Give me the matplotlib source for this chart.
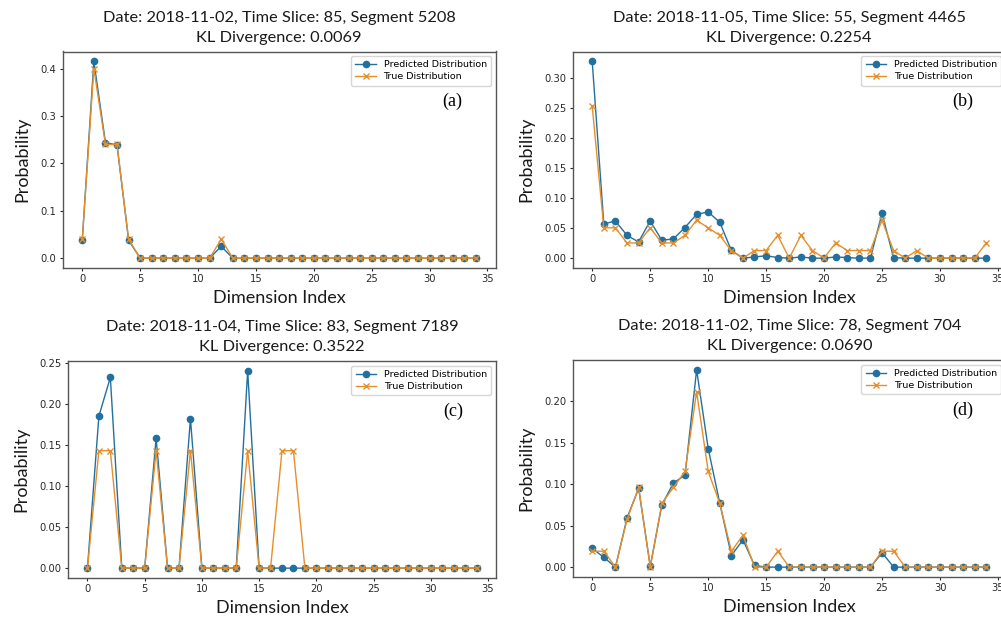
import numpy as np
import matplotlib
matplotlib.use("Agg")
import matplotlib.pyplot as plt

# Dimension indices 0..34
dims = list(range(35))

# (a) 2018-11-02, slice 85, segment 5208
pred_a = [0.038, 0.4155, 0.244, 0.239, 0.038] + [0.0] * 7 + [0.025] + [0.0] * 22
true_a = [0.04, 0.40, 0.24, 0.24, 0.04] + [0.0] * 7 + [0.04] + [0.0] * 22

# (b) 2018-11-05, slice 55, segment 4465
pred_b = [0.328, 0.057, 0.062, 0.038, 0.027, 0.062, 0.030, 0.032, 0.051, 0.073,
          0.077, 0.060, 0.013, 0.0, 0.002, 0.004, 0.001, 0.0, 0.002, 0.0,
          0.0, 0.002, 0.001, 0.0, 0.0, 0.0745, 0.001, 0.0, 0.0, 0.0,
          0.0, 0.0, 0.0, 0.0, 0.0]
true_b = [0.2532, 0.0506, 0.0506, 0.0253, 0.0253, 0.0506, 0.0253, 0.0253, 0.0380, 0.0633,
          0.0506, 0.0380, 0.0127, 0.0, 0.0127, 0.0127, 0.0380, 0.0, 0.0380, 0.0127,
          0.0, 0.0253, 0.0127, 0.0127, 0.0127, 0.0633, 0.0127, 0.0, 0.0127, 0.0,
          0.0, 0.0, 0.0, 0.0, 0.0253]

# (c) 2018-11-04, slice 83, segment 7189
pred_c = [0.0, 0.185, 0.232, 0.0, 0.0, 0.0, 0.158, 0.0, 0.0, 0.182,
          0.0, 0.0, 0.0, 0.0, 0.240] + [0.0] * 20
true_c = [0.0, 0.1429, 0.1429, 0.0, 0.0, 0.0, 0.1429, 0.0, 0.0, 0.1429,
          0.0, 0.0, 0.0, 0.0, 0.1429, 0.0, 0.0, 0.1429, 0.1429] + [0.0] * 16

# (d) 2018-11-02, slice 78, segment 704
pred_d = [0.0227, 0.0117, 0.0, 0.0595, 0.095, 0.001, 0.075, 0.1015, 0.111, 0.238,
          0.143, 0.077, 0.014, 0.033, 0.002, 0.0, 0.0, 0.0, 0.0, 0.0,
          0.0, 0.0, 0.0, 0.0, 0.0, 0.0174, 0.0, 0.0, 0.0, 0.0,
          0.0, 0.0, 0.0, 0.0, 0.0]
true_d = [0.0192, 0.0192, 0.0, 0.0577, 0.0962, 0.0, 0.0769, 0.0962, 0.1154, 0.2115,
          0.1154, 0.0769, 0.0192, 0.0385, 0.0, 0.0, 0.0192, 0.0, 0.0, 0.0,
          0.0, 0.0, 0.0, 0.0, 0.0, 0.0192, 0.0192, 0.0, 0.0, 0.0,
          0.0, 0.0, 0.0, 0.0, 0.0]

panels = [
    ("Date: 2018-11-02, Time Slice: 85, Segment 5208\nKL Divergence: 0.0069", pred_a, true_a, "(a)"),
    ("Date: 2018-11-05, Time Slice: 55, Segment 4465\nKL Divergence: 0.2254", pred_b, true_b, "(b)"),
    ("Date: 2018-11-04, Time Slice: 83, Segment 7189\nKL Divergence: 0.3522", pred_c, true_c, "(c)"),
    ("Date: 2018-11-02, Time Slice: 78, Segment 704\nKL Divergence: 0.0690", pred_d, true_d, "(d)"),
]

BLUE = "#22709f"
ORANGE = "#e58f2c"

W, H = 1001, 619
# axes boxes in pixels: left, top, width, height
boxes = [(62.6, 51.5, 433, 216.5),
         (572.5, 51.5, 433.5, 216.5),
         (68, 361, 428, 217),
         (572.6, 360, 433.5, 217)]

fig = plt.figure(figsize=(W / 100, H / 100), dpi=100)

for (title, pred, true, tag), (l, t, w, h) in zip(panels, boxes):
    ax = fig.add_axes([l / W, 1 - (t + h) / H, w / W, h / H])
    ax.plot(dims, pred, marker="o", color=BLUE, lw=1.0, ms=4.5, label="Predicted Distribution")
    ax.plot(dims, true, marker="x", color=ORANGE, lw=1.0, ms=4.5, mew=1.0, label="True Distribution")
    ax.set_xticks([0, 5, 10, 15, 20, 25, 30, 35])
    ax.tick_params(labelsize=7.2, length=2.5, width=0.8, pad=2, colors="#2a2a2a")
    for s in ax.spines.values():
        s.set_color("#555555")
        s.set_linewidth(1.0)
    ax.set_title(title, fontsize=11.8, family="Lato", pad=7, linespacing=1.55, color="#1a1a1a")
    ax.set_xlabel("Dimension Index", fontsize=13, family="Lato", labelpad=4, color="#1a1a1a")
    ax.set_ylabel("Probability", fontsize=13, family="Lato", labelpad=7, color="#1a1a1a")
    ax.legend(loc="upper right", fontsize=6.8, handlelength=2.2, borderpad=0.45,
              labelspacing=0.3, framealpha=0.8)
    ax.text(0.9, 0.77, tag, transform=ax.transAxes, fontsize=13,
            family="Liberation Serif", ha="center", va="center")

fig.savefig("out.png", dpi=100)
